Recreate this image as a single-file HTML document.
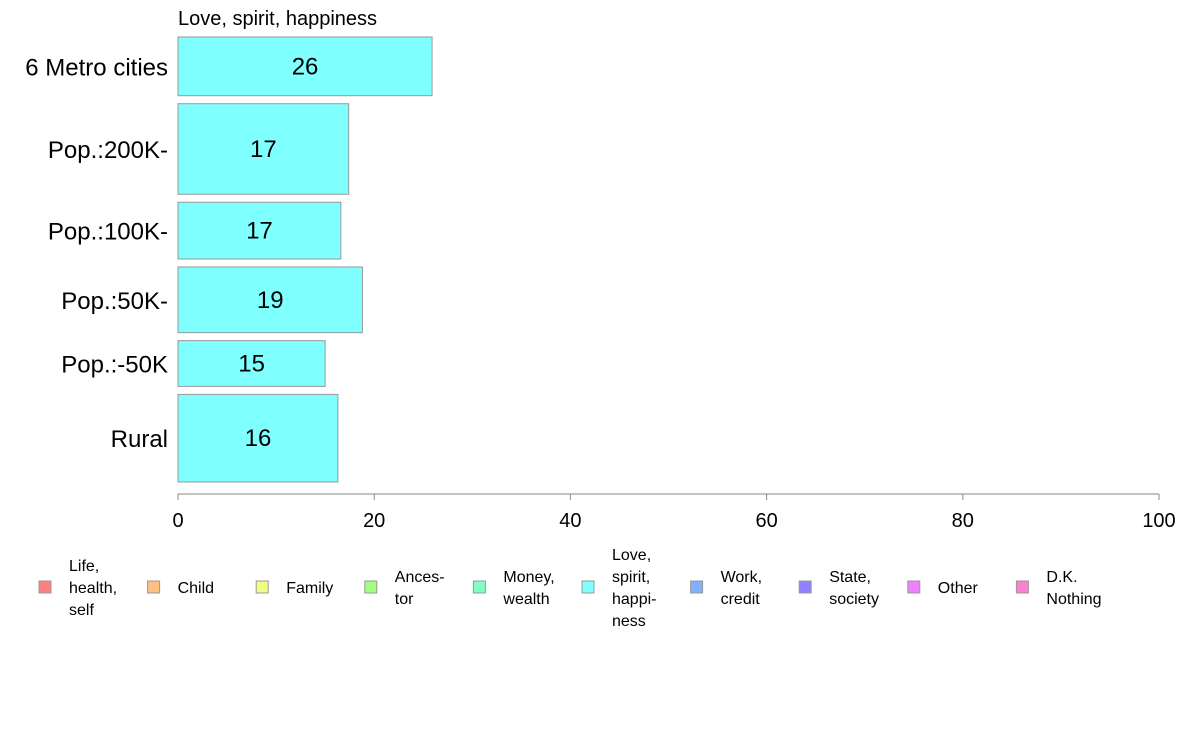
<!DOCTYPE html>
<html><head><meta charset="utf-8"><style>
body{margin:0;background:#fff;font-family:"Liberation Sans",sans-serif}
</style></head><body>
<svg id="c" width="1188" height="736" xmlns="http://www.w3.org/2000/svg" font-family="Liberation Sans, sans-serif"></svg>
<script>
const categories=["6 Metro cities","Pop.:200K-","Pop.:100K-","Pop.:50K-","Pop.:-50K","Rural"];
const values=[25.9,17.4,16.6,18.8,15.0,16.3];
const labels=["26","17","17","19","15","16"];
const weights=[59,91,57,66,46,88];
const ticks=[0,20,40,60,80,100];
const legendNames=[["Life,","health,","self"],["Child"],["Family"],["Ances-","tor"],["Money,","wealth"],["Love,","spirit,","happi-","ness"],["Work,","credit"],["State,","society"],["Other"],["D.K.","Nothing"]];
const legendColors=["#ff8080","#ffc080","#f0ff80","#a0ff80","#80ffc0","#80ffff","#80b0ff","#9080ff","#f080ff","#ff80d0"];
const svg=document.getElementById('c');const NS="http://www.w3.org/2000/svg";
function mk(t,a,p){const e=document.createElementNS(NS,t);for(const k in a)e.setAttribute(k,a[k]);(p||svg).appendChild(e);return e;}
const x0=178,x1=1159,yTop=37,yBottom=482,gap=8;
const xs=v=>x0+(x1-x0)*v/100;
const tw=weights.reduce((a,b)=>a+b,0);
const avail=yBottom-yTop-gap*(weights.length-1);
let t=mk('text',{x:178,y:25,'font-size':20});t.textContent="Love, spirit, happiness";


let y=yTop;
categories.forEach((c,i)=>{
 const h=avail*weights[i]/tw;
 const r=mk('rect',{x:x0,y:y,width:xs(values[i])-x0,height:h,fill:'#80ffff',stroke:'#999','stroke-width':1});
 
 
 const vl=mk('text',{x:(x0+xs(values[i]))/2,y:y+h/2+8,'font-size':24,'text-anchor':'middle'});vl.textContent=labels[i];
 
 
 const cl=mk('text',{x:168,y:y+h/2+9,'font-size':24,'text-anchor':'end'});cl.textContent=c;
 
 
 y+=h+gap;
});
const ax=mk('line',{x1:x0,x2:x1,y1:494,y2:494,stroke:'#888'});


ticks.forEach(v=>{
 const tl=mk('line',{x1:xs(v),x2:xs(v),y1:494,y2:500,stroke:'#888'});
 
 
 const tt=mk('text',{x:xs(v),y:527,'font-size':20,'text-anchor':'middle'});tt.textContent=v;
 
 
});
legendNames.forEach((n,i)=>{
 const bx=39+i*108.6;
 const g=mk('g',{});
 
 
 mk('rect',{x:bx,y:581,width:12,height:12,fill:legendColors[i],stroke:'#999'},g);
 const y0=587-(n.length-1)*11+6;
 n.forEach((s,j)=>{const tx=mk('text',{x:bx+30,y:y0+j*22,'font-size':16},g);tx.textContent=s;});
});
</script>
</body></html>
